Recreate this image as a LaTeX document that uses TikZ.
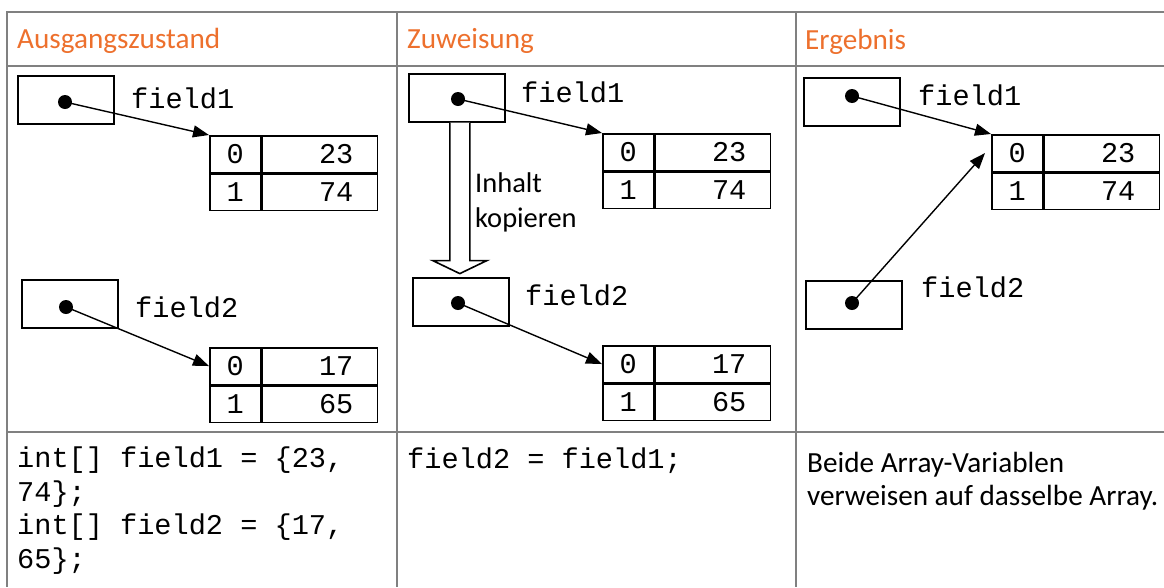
\documentclass[tikz,border=0pt]{standalone}
\usepackage{fontspec}
\setmainfont{Carlito}
\setmonofont{Liberation Mono}
\usepackage{tikz}
\usetikzlibrary{arrows.meta}

\definecolor{kopf}{RGB}{237,112,45}
\definecolor{gitter}{RGB}{128,128,128}

\begin{document}
\begin{tikzpicture}[x=1pt, y=-1pt,
        every node/.style={inner sep=0pt},
        kasten/.style={draw, line width=1.6pt, minimum width=96pt, minimum height=48pt, anchor=north west},
        punkt/.style={circle, fill, minimum size=14pt},
        varname/.style={anchor=base west, font=\ttfamily\fontsize{28.6}{34}\selectfont},
        idx/.style={draw, line width=1.6pt, minimum width=51pt, minimum height=36.5pt, anchor=north west,
            font=\ttfamily\fontsize{28.6}{34}\selectfont},
        wert/.style={draw, line width=1.6pt, text width=67pt, inner xsep=24pt, align=right,
            minimum height=36.5pt, anchor=north west, font=\ttfamily\fontsize{28.6}{34}\selectfont},
        pfeil/.style={line width=1.4pt, -{Triangle[length=16pt, width=12pt]}},
        kopftext/.style={anchor=base west, text=kopf, font=\fontsize{29.2}{34}\selectfont}]
        \useasboundingbox (0,0) rectangle (1164,587);

        % Tabelle
        \foreach \y in {12,66,432}
            \draw[gitter, line width=2pt] (7,\y) -- (1164,\y);
        \foreach \x in {7,397,796}
            \draw[gitter, line width=2pt] (\x,11) -- (\x,587);

        % Kopfzeile
        \node[kopftext] (h1) at (17,48) {Ausgangszustand};
        \node[kopftext] (h2) at (407,48) {Zuweisung};
        \node[kopftext] (h3) at (805,49) {Ergebnis};

        % Arrays
        \foreach \n/\x/\y/\a/\b in {a/209/135/23/74, b/209/347/17/65, c/602/133/23/74, d/602/345/17/65, e/991/134/23/74} {
            \node[idx] (\n0) at (\x,\y) {0};
            \node[wert] (\n0w) at (\n0.north east) {\a};
            \node[idx] (\n1) at (\n0.south west) {1};
            \node[wert] (\n1w) at (\n1.north east) {\b};
        }

        % Ausgangszustand
        \node[kasten] (k1) at (17,75) {};
        \node[punkt] (p1) at (65,102) {};
        \node[varname] (n1) at (131,108) {field1};
        \node[kasten] (k2) at (21,279) {};
        \node[punkt] (p2) at (66,307) {};
        \node[varname] (n2) at (135,317) {field2};
        \draw[pfeil] (p1.center) -- (a0.north west);
        \draw[pfeil] (p2.center) -- (b0.west);

        % Zuweisung
        \node[kasten] (k3) at (408,73) {};
        \node[punkt] (p3) at (458,99) {};
        \node[varname] (n3) at (521,102) {field1};
        \node[kasten] (k4) at (412,277) {};
        \node[punkt] (p4) at (458,303) {};
        \node[varname] (n4) at (525,305) {field2};
        \draw[pfeil] (p3.center) -- (c0.north west);
        \draw[pfeil] (p4.center) -- (d0.west);
        \draw[line width=1.6pt, fill=white] ([xshift=-7pt]k3.south) -- ++(0,138) -- ++(-17,0)
            -- ++(27,13) -- ++(27,-13) -- ++(-17,0) -- ([xshift=13pt]k3.south);
        \node[anchor=base west, align=left, font=\fontsize{28.5}{35}\selectfont] (t1) at (475,227) {Inhalt\\kopieren};

        % Ergebnis
        \node[kasten] (k5) at (803,77) {};
        \node[punkt] (p5) at (852,96) {};
        \node[varname] (n5) at (918,105) {field1};
        \node[kasten] (k6) at (805,280) {};
        \node[punkt] (p6) at (852,303) {};
        \node[varname] (n6) at (921,297) {field2};
        \draw[pfeil] (p5.center) -- (e0.north west);
        \draw[pfeil] (p6.center) -- ([xshift=-6pt]e0.west);

        % Code und Erklaerung
        \node[anchor=base west, align=left, font=\ttfamily\fontsize{28.6}{33.4}\selectfont] (c1) at (17,568)
            {int[] field1 = \{23,\\74\};\\int[] field2 = \{17,\\65\};};
        \node[anchor=base west, font=\ttfamily\fontsize{28.6}{34}\selectfont] (c2) at (407,468) {field2 = field1;};
        \node[anchor=base west, align=left, font=\fontsize{29.2}{32.5}\selectfont] (c3) at (807,505)
            {Beide Array-Variablen\\verweisen auf dasselbe Array.};
\end{tikzpicture}
\end{document}
